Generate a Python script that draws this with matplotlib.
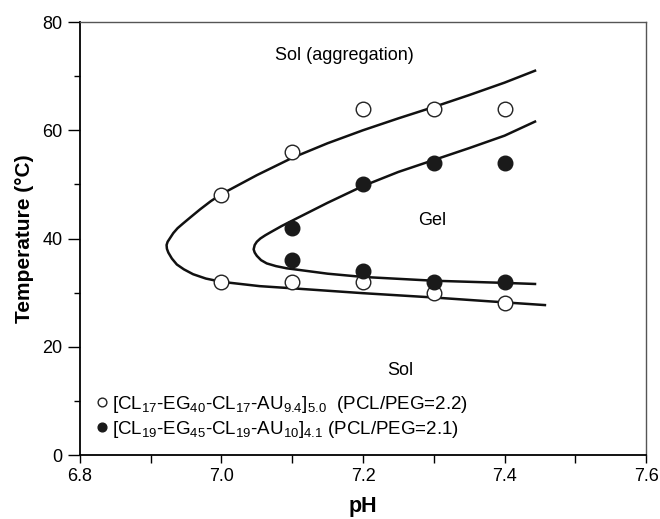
import numpy as np
import matplotlib
matplotlib.use('Agg')
font = {'family': 'sans-serif',
        'sans-serif': ['Liberation Sans', 'DejaVu Sans'],
        'size': 13}
matplotlib.rc('font', **font)
matplotlib.rc('mathtext', default='regular')
import matplotlib.pyplot as plt

# measured points
ph_open = [7.0, 7.0, 7.1, 7.1, 7.2, 7.2, 7.3, 7.3, 7.4, 7.4]
t_open = [48, 32, 56, 32, 64, 32, 64, 30, 64, 28]
ph_fill = [7.1, 7.1, 7.2, 7.2, 7.3, 7.3, 7.4, 7.4]
t_fill = [42, 36, 50, 34, 54, 32, 54, 32]

# fitted boundaries
ph_fit_open = [7.443, 7.4, 7.35, 7.3, 7.25, 7.2, 7.15, 7.1, 7.05, 7.0, 6.985,
               6.970, 6.957, 6.946, 6.938, 6.932, 6.927, 6.924, 6.9225, 6.923,
               6.925, 6.930, 6.937, 6.947, 6.960, 6.978, 7.0, 7.054, 7.1, 7.2,
               7.3, 7.4, 7.457]
t_fit_open = [71.0, 68.8, 66.5, 64.3, 62.2, 60.0, 57.6, 54.9, 51.7, 48.2, 46.9,
              45.4, 44.0, 42.8, 41.9, 41.0, 40.0, 39.4, 38.8, 38.1,
              37.4, 36.3, 35.2, 34.3, 33.4, 32.6, 32.0, 31.2, 30.8, 29.9,
              29.1, 28.2, 27.7]
ph_fit_fill = [7.443, 7.4, 7.35, 7.3, 7.25, 7.2, 7.15, 7.1, 7.085, 7.070,
               7.062, 7.055, 7.050, 7.047, 7.0455, 7.047, 7.050, 7.056, 7.064,
               7.077, 7.092, 7.15, 7.2, 7.3, 7.4, 7.443]
t_fit_fill = [61.6, 59.0, 56.7, 54.5, 52.3, 49.7, 46.6, 43.3, 42.3, 41.2,
              40.6, 40.0, 39.4, 38.8, 38.0, 37.4, 36.8, 36.0, 35.4,
              34.9, 34.5, 33.5, 32.9, 32.2, 31.8, 31.6]

label_open = r'[CL$_{17}$-EG$_{40}$-CL$_{17}$-AU$_{9.4}$]$_{5.0}$  (PCL/PEG=2.2)'
label_fill = r'[CL$_{19}$-EG$_{45}$-CL$_{19}$-AU$_{10}$]$_{4.1}$ (PCL/PEG=2.1)'

fig = plt.figure(figsize=(6.6, 5.19), dpi=100)
ax = fig.add_axes([0.121, 0.1233, 0.858, 0.8343])

ax.plot(ph_fit_open, t_fit_open, color='#111111', lw=1.8, zorder=2)
ax.plot(ph_fit_fill, t_fit_fill, color='#111111', lw=1.8, zorder=2)
h1, = ax.plot(ph_open, t_open, 'o', ms=10.5, mfc='white', mec='#222222', mew=1.0,
              ls='none', zorder=3)
h2, = ax.plot(ph_fill, t_fill, 'o', ms=10.5, mfc='#1a1a1a', mec='#1a1a1a',
              ls='none', zorder=3)

ax.set_xlim(6.8, 7.6)
ax.set_ylim(0, 80)
ax.set_xticks([6.8, 7.0, 7.2, 7.4, 7.6])
ax.set_xticks(np.arange(6.9, 7.6, 0.2), minor=True)
ax.set_yticks([0, 20, 40, 60, 80])
ax.set_yticks([10, 30, 50, 70], minor=True)
ax.xaxis.set_major_formatter(matplotlib.ticker.FormatStrFormatter('%.1f'))
ax.tick_params(axis='both', which='major', direction='out', length=6, width=1.0,
               labelsize=13)
ax.tick_params(axis='x', which='minor', direction='out', length=6, width=1.0)
ax.tick_params(axis='y', which='major', length=9)
ax.tick_params(axis='y', which='minor', direction='out', length=4.5, width=1.0)

for s in ['left', 'bottom']:
    ax.spines[s].set_linewidth(1.3)
for s in ['top', 'right']:
    ax.spines[s].set_linewidth(1.0)
    ax.spines[s].set_color('#555555')

ax.set_xlabel('pH', fontsize=15.5, fontweight='bold', labelpad=8)
ax.set_ylabel('Temperature (°C)', fontsize=15, fontweight='bold', labelpad=6)

ax.text(7.174, 73.8, 'Sol (aggregation)', fontsize=13, ha='center', va='center')
ax.text(7.298, 43.3, 'Gel', fontsize=13, ha='center', va='center')
ax.text(7.252, 15.6, 'Sol', fontsize=13, ha='center', va='center')

ax.legend([h1, h2], [label_open, label_fill], loc='lower left',
          bbox_to_anchor=(0.0, -0.008), frameon=False, fontsize=13.5,
          markerscale=0.6, handlelength=0.4, handletextpad=0.3,
          labelspacing=0.2, borderpad=0.4, borderaxespad=0.6)

fig.savefig('out.png', dpi=100)
plt.close(fig)
